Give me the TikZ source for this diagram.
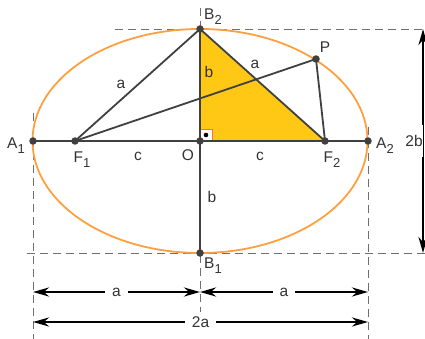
\documentclass[tikz,border=0pt]{standalone}
\usepackage{fontspec}
\setmainfont{Liberation Sans}
\usetikzlibrary{arrows.meta}
\definecolor{ell}{HTML}{FFA040}
\definecolor{tri}{HTML}{FFC815}
\definecolor{ln}{HTML}{404040}
\definecolor{dsh}{HTML}{707070}
\definecolor{txt}{HTML}{333333}
\definecolor{rmark}{HTML}{F07050}
\newcommand{\sbs}[1]{\raisebox{-0.6ex}{\fontsize{13}{13}\selectfont #1}}
\tikzset{
  seg/.style={draw=ln, line width=1.8pt},
  guide/.style={draw=dsh, line width=0.9pt, dash pattern=on 8pt off 5pt},
  pt/.style={circle, fill=ln, inner sep=0pt, minimum size=7.5pt},
  lab/.style={text=txt, font=\fontsize{15.5}{17}\selectfont, inner sep=1pt},
  dim/.style={draw=black, line width=2.4pt, {Stealth[length=16pt,width=9pt]}-{Stealth[length=16pt,width=9pt]}},
  dimlab/.style={lab, fill=white, inner xsep=7pt}
}
\begin{document}
\begin{tikzpicture}[x=1pt,y=-1pt]
\useasboundingbox (0,0) rectangle (425,339);
% coordinates
\coordinate (O) at (200,141);
\coordinate (A1c) at (33,141);
\coordinate (A2c) at (368,141);
\coordinate (B2c) at (200,29);
\coordinate (B1c) at (200,253);
\coordinate (F1c) at (75,141);
\coordinate (F2c) at (325,141);
\coordinate (Pc) at (316,59);
% guides
\coordinate (g1) at (33,113); \coordinate (g2) at (33,339);
\coordinate (g3) at (368,127); \coordinate (g4) at (368,339);
\coordinate (g5) at (200,8); \coordinate (g6) at (200,312);
\coordinate (g7) at (115,29); \coordinate (g8) at (425,29);
\coordinate (g9) at (27,253); \coordinate (g10) at (425,253);
\draw[guide] (g1) -- (g2);
\draw[guide] (g3) -- (g4);
\draw[guide] (g5) -- (g6);
\draw[guide] (g7) -- (g8);
\draw[guide] (g9) -- (g10);
% triangle
\fill[tri] (O) -- (B2c) -- (F2c) -- cycle;
% ellipse
\draw[ell, line width=1.8pt] (O) ellipse [x radius=167.5, y radius=112];
% right angle
\draw[rmark, fill=white, line width=0.9pt] (200,129) rectangle (212,141);
\fill[black] (206,135) circle (2.3);
% segments
\draw[seg] (A1c) -- (A2c);
\draw[seg] (B2c) -- (B1c);
\draw[seg] (F1c) -- (B2c) -- (F2c);
\draw[seg] (F1c) -- (Pc) -- (F2c);
% points
\node[pt] (A1) at (A1c) {};
\node[pt] (A2) at (A2c) {};
\node[pt] (B1) at (B1c) {};
\node[pt] (B2) at (B2c) {};
\node[pt] (F1) at (F1c) {};
\node[pt] (F2) at (F2c) {};
\node[pt] (P) at (Pc) {};
\node[pt] (Od) at (O) {};
% point labels
\node[lab] at (16,146) {A\sbs{1}};
\node[lab] at (385,146) {A\sbs{2}};
\node[lab] at (213,17) {B\sbs{2}};
\node[lab] at (213,266) {B\sbs{1}};
\node[lab] at (82,160) {F\sbs{1}};
\node[lab] at (332,160) {F\sbs{2}};
\node[lab] at (188,155) {O};
\node[lab] at (325,47) {P};
% segment labels
\node[lab] at (121,84) {a};
\node[lab] at (209,72) {b};
\node[lab] at (255,64) {a};
\node[lab] at (138,156) {c};
\node[lab] at (260,156) {c};
\node[lab] at (212,197) {b};
% dimension arrows
\coordinate (d1) at (33,292); \coordinate (d2) at (200,292); \coordinate (d3) at (368,292);
\coordinate (e1) at (33,322); \coordinate (e2) at (368,322);
\coordinate (h1) at (423,29); \coordinate (h2) at (423,253);
\draw[dim] (d1) -- node[dimlab] {a} (d2);
\draw[dim] (d2) -- node[dimlab] {a} (d3);
\draw[dim] (e1) -- node[dimlab] {2a} (e2);
\draw[dim] (h1) -- node[lab, fill=white, inner ysep=10pt, inner xsep=0pt, xshift=-9pt] {2b} (h2);
\end{tikzpicture}
\end{document}
